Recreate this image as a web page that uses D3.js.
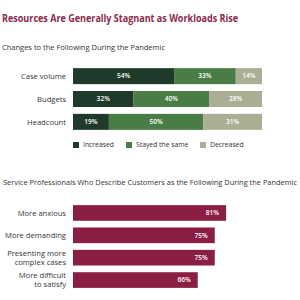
<!DOCTYPE html>
<meta charset="utf-8">
<style>
body { margin: 0; background: #fff; }
text { font-family: "Open Sans", "Noto Sans", sans-serif; }
.title { font-size: 10px; font-weight: 700; fill: #8b2a4e; }
.sub { font-size: 7.4px; fill: #333; }
.cat { font-size: 7.6px; fill: #333; }
.val { font-size: 6.6px; fill: #fff; font-weight: 600; }
.leg { font-size: 6.8px; fill: #333; }
</style>
<svg width="300" height="300"></svg>
<script src="https://cdn.jsdelivr.net/npm/d3@7"></script>
<script>
var stackCats = ["Case volume", "Budgets", "Headcount"],
    stackKeys = ["Increased", "Stayed the same", "Decreased"],
    increased = [54, 32, 19],
    stayed = [33, 40, 50],
    decreased = [14, 28, 31],
    stackColors = ["#1f3a2b", "#4a7c45", "#a9ae94"];

var custCats = [["More anxious"], ["More demanding"], ["Presenting more", "complex cases"], ["More difficult", "to satisfy"]],
    custValues = [81, 75, 75, 66];

var svg = d3.select("svg");

svg.append("text").attr("class", "title").attr("x", 2).attr("y", 22)
    .attr("textLength", 236).attr("lengthAdjust", "spacingAndGlyphs")
    .text("Resources Are Generally Stagnant as Workloads Rise");
svg.append("text").attr("class", "sub").attr("x", 2).attr("y", 50)
    .attr("textLength", 163).attr("lengthAdjust", "spacingAndGlyphs")
    .text("Changes to the Following During the Pandemic");

// stacked chart
var rows = stackCats.map(function(c, i) {
  var vals = [increased[i], stayed[i], decreased[i]],
      total = d3.sum(vals), acc = 0;
  return vals.map(function(v, k) {
    var seg = {cat: c, key: k, v: v, x0: acc / total, x1: (acc + v) / total};
    acc += v;
    return seg;
  });
});

var x = d3.scaleLinear().domain([0, 1]).range([73, 262]);
var y = d3.scaleBand().domain(stackCats).range([67, 131]).paddingInner(0.3).paddingOuter(0.05);

var g = svg.append("g");
rows.forEach(function(r) {
  g.selectAll(null).data(r).enter().append("rect")
      .attr("x", function(d) { return x(d.x0); })
      .attr("y", function(d) { return y(d.cat); })
      .attr("width", function(d) { return x(d.x1) - x(d.x0); })
      .attr("height", y.bandwidth())
      .attr("fill", function(d) { return stackColors[d.key]; });
  g.selectAll(null).data(r).enter().append("text")
      .attr("class", "val")
      .attr("text-anchor", "middle")
      .attr("x", function(d) { return (x(d.x0) + x(d.x1)) / 2; })
      .attr("y", function(d) { return y(d.cat) + y.bandwidth() / 2; })
      .attr("dy", "0.35em")
      .text(function(d) { return d.v + "%"; });
});

g.selectAll(".cat").data(stackCats).enter().append("text")
    .attr("class", "cat")
    .attr("text-anchor", "end")
    .attr("x", 66)
    .attr("y", function(d) { return y(d) + y.bandwidth() / 2; })
    .attr("dy", "0.35em")
    .text(function(d) { return d; });

// legend
var legX = [73, 126, 200];
var leg = svg.append("g").selectAll("g").data(stackKeys).enter().append("g")
    .attr("transform", function(d, i) { return "translate(" + legX[i] + ",142)"; });
leg.append("rect").attr("width", 6).attr("height", 6)
    .attr("fill", function(d, i) { return stackColors[i]; });
leg.append("text").attr("class", "leg").attr("x", 10).attr("y", 3).attr("dy", "0.35em")
    .text(function(d) { return d; });

// customers chart
svg.append("text").attr("class", "sub").attr("x", 3).attr("y", 185)
    .attr("textLength", 294).attr("lengthAdjust", "spacingAndGlyphs")
    .text("Service Professionals Who Describe Customers as the Following During the Pandemic");

var x2 = d3.scaleLinear().domain([0, 100]).range([73, 262]);
var y2 = d3.scaleBand().domain(d3.range(custValues.length)).range([204, 289]).paddingInner(0.3).paddingOuter(0.05);

var g2 = svg.append("g");
g2.selectAll("rect").data(custValues).enter().append("rect")
    .attr("x", x2(0))
    .attr("y", function(d, i) { return y2(i); })
    .attr("width", function(d) { return x2(d) - x2(0); })
    .attr("height", y2.bandwidth())
    .attr("fill", "#8a1e45");
g2.selectAll(".val").data(custValues).enter().append("text")
    .attr("class", "val")
    .attr("text-anchor", "end")
    .attr("x", function(d) { return x2(d) - 7; })
    .attr("y", function(d, i) { return y2(i) + y2.bandwidth() / 2; })
    .attr("dy", "0.35em")
    .text(function(d) { return d + "%"; });

var lab = g2.selectAll(".cat").data(custCats).enter().append("text")
    .attr("class", "cat")
    .attr("text-anchor", "end")
    .attr("x", 66)
    .attr("y", function(d, i) { return y2(i) + y2.bandwidth() / 2 - (d.length - 1) * 4.7; });
lab.selectAll("tspan").data(function(d) { return d; }).enter().append("tspan")
    .attr("x", 66)
    .attr("dy", function(d, i) { return i ? "1.2em" : "0.35em"; })
    .text(function(d) { return d; });
</script>
